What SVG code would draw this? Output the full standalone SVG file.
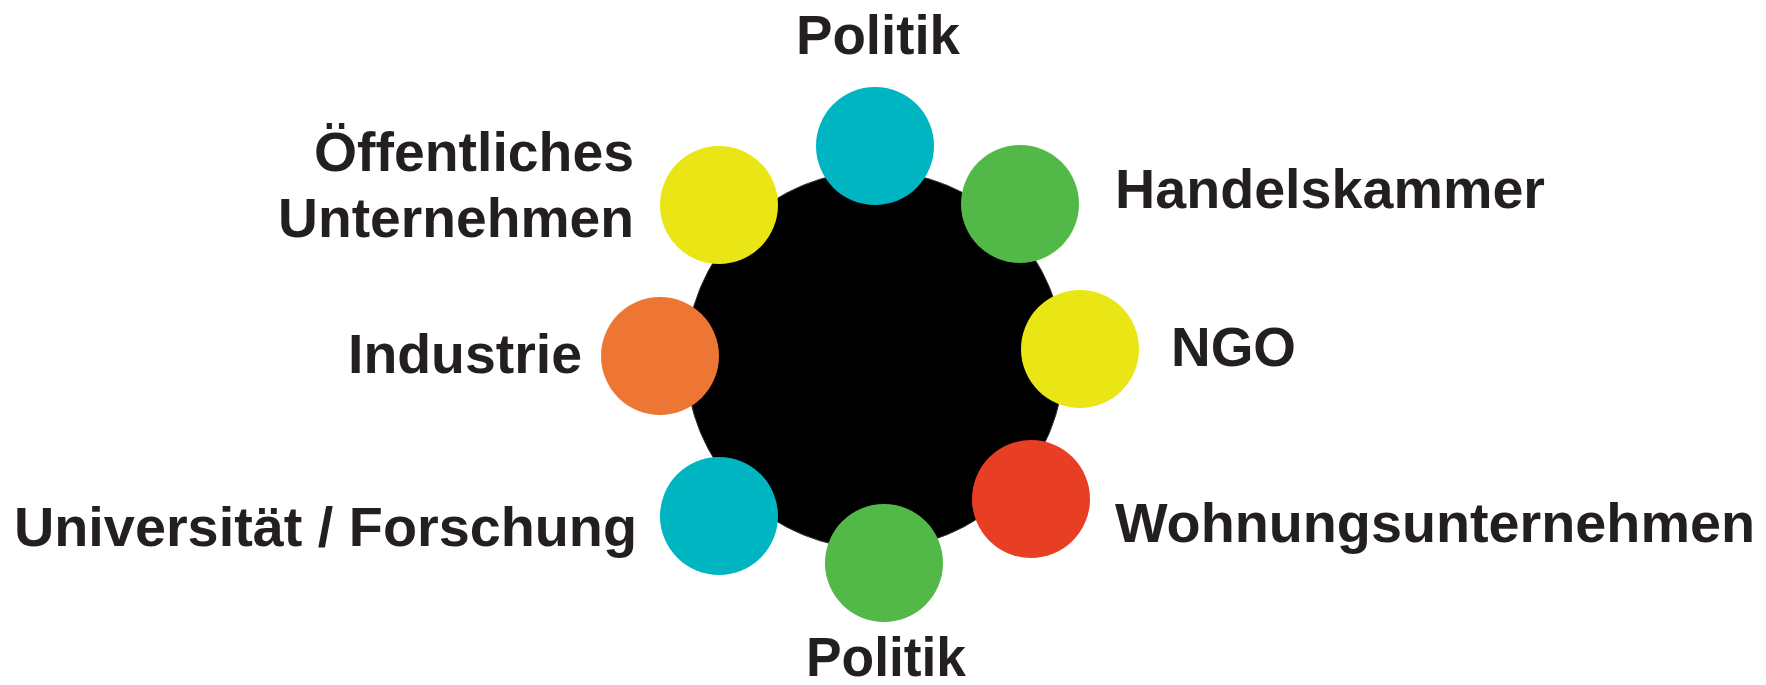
<svg xmlns="http://www.w3.org/2000/svg" width="1766" height="685" viewBox="0 0 1766 685">
<style>
.t{font-family:"Liberation Sans Narrow","Liberation Sans",Arial,sans-serif;font-weight:bold;font-size:55px;fill:#231F20}
.cy{fill:#00B5C2}.gr{fill:#52B848}.ye{fill:#EAE616}.or{fill:#EE7634}.rd{fill:#E83E24}
</style>
<rect width="1766" height="685" fill="#fff"/>
<g id="center"><circle cx="875" cy="360" r="189" fill="#000" stroke="#333" stroke-width="1"/></g>
<g id="connectors"></g>
<g id="politik-top"><circle class="cy" cx="875" cy="146" r="59"/><text class="t" x="878" y="54" text-anchor="middle" textLength="164" lengthAdjust="spacingAndGlyphs">Politik</text></g>
<g id="handelskammer"><circle class="gr" cx="1020" cy="204" r="59"/><text class="t" x="1115" y="208" textLength="430" lengthAdjust="spacingAndGlyphs">Handelskammer</text></g>
<g id="oeffentliches"><circle class="ye" cx="719" cy="205" r="59"/><text class="t" x="634" y="171" text-anchor="end" textLength="320" lengthAdjust="spacingAndGlyphs">Öffentliches</text><text class="t" x="634" y="237" text-anchor="end" textLength="356" lengthAdjust="spacingAndGlyphs">Unternehmen</text></g>
<g id="industrie"><circle class="or" cx="660" cy="356" r="59"/><text class="t" x="582" y="373" text-anchor="end" textLength="234" lengthAdjust="spacingAndGlyphs">Industrie</text></g>
<g id="ngo"><circle class="ye" cx="1080" cy="349" r="59"/><text class="t" x="1171" y="366" textLength="125" lengthAdjust="spacingAndGlyphs">NGO</text></g>
<g id="universitaet"><circle class="cy" cx="719" cy="516" r="59"/><text class="t" x="14" y="546" textLength="623" lengthAdjust="spacingAndGlyphs">Universität / Forschung</text></g>
<g id="wohnungsunternehmen"><circle class="rd" cx="1031" cy="499" r="59"/><text class="t" x="1115" y="542" textLength="640" lengthAdjust="spacingAndGlyphs">Wohnungsunternehmen</text></g>
<g id="politik-bottom"><circle class="gr" cx="884" cy="563" r="59"/><text class="t" x="886" y="676" text-anchor="middle" textLength="160" lengthAdjust="spacingAndGlyphs">Politik</text></g>
</svg>
